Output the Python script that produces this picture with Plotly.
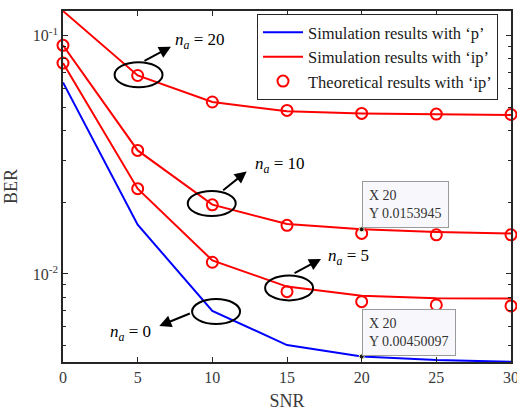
import numpy as np
import plotly.graph_objects as go

snr = [0, 5, 10, 15, 20, 25, 30]

ber_p = [0.0637, 0.0161, 0.0070, 0.00503, 0.00450097, 0.00435, 0.00428]

sim_ip_20 = [0.127, 0.0681, 0.0527, 0.0482, 0.0472, 0.0467, 0.0465]
sim_ip_10 = [0.0911, 0.0330, 0.01954, 0.0162, 0.0153945, 0.0150, 0.0148]
sim_ip_5 = [0.0768, 0.0228, 0.0114, 0.00885, 0.00811, 0.00790, 0.00788]

theo_ip_20 = [0.127, 0.0681, 0.0527, 0.0486, 0.0472, 0.0469, 0.0467]
theo_ip_10 = [0.0911, 0.0330, 0.0195, 0.0160, 0.0148, 0.0146, 0.0146]
theo_ip_5 = [0.0768, 0.0228, 0.0112, 0.00843, 0.00765, 0.00741, 0.00734]

legend_names = ["Simulation results with \u2018p\u2019",
                "Simulation results with \u2018ip\u2019",
                "Theoretical results with \u2018ip\u2019"]

# labels: (text, ellipse centre x, ellipse centre y, arrow head x, arrow head y, ax, ay, text x, text y)
labels = [
    ("20", 5.06, 0.0686, 7.23, 10 ** -1.046, -28, 15, 7.37, 10 ** -1.021),
    ("10", 9.96, 0.01977, 12.30, 10 ** -1.5695, -25, 20, 12.70, 10 ** -1.541),
    ("5", 15.14, 0.00874, 17.28, 10 ** -1.937, -28, 15, 17.62, 10 ** -1.927),
    ("0", 10.25, 0.00695, 6.45, 10 ** -2.218, 32, -13, 3.01, 10 ** -2.246),
]

datatips = [(20, 0.0153945, "X 20<br>Y 0.0153945"),
            (20, 0.00450097, "X 20<br>Y 0.00450097")]

FONT = "'Liberation Serif', 'Times New Roman', Times, 'DejaVu Serif', serif"
RED = "#ff0000"
BLUE = "#0000ff"

fig = go.Figure()

fig.add_trace(go.Scatter(x=snr, y=ber_p, mode="lines", name=legend_names[0],
                         line=dict(color=BLUE, width=2), cliponaxis=False))
for i, s in enumerate([sim_ip_20, sim_ip_10, sim_ip_5]):
    fig.add_trace(go.Scatter(x=snr, y=s, mode="lines", name=legend_names[1],
                             line=dict(color=RED, width=2), showlegend=(i == 0),
                             cliponaxis=False))
for i, s in enumerate([theo_ip_20, theo_ip_10, theo_ip_5]):
    fig.add_trace(go.Scatter(x=snr, y=s, mode="markers", name=legend_names[2],
                             marker=dict(symbol="circle-open", size=11, color=RED,
                                         line=dict(width=2, color=RED)),
                             showlegend=(i == 0), cliponaxis=False))

# datatip dots
fig.add_trace(go.Scatter(x=[d[0] for d in datatips], y=[d[1] for d in datatips],
                         mode="markers", showlegend=False, cliponaxis=False,
                         marker=dict(size=5, color="#1a1a1a",
                                     line=dict(width=1, color="#f0f0c8"))))

DEC = 238.3  # pixels per decade (for ellipse height only)
annotations = []
shapes = []
for txt, ex, ey, hx, hy, ax, ay, tx, ty in labels:
    shapes.append(dict(type="circle", xref="x", yref="y",
                       xsizemode="pixel", xanchor=ex, x0=-24, x1=24,
                       y0=ey * 10 ** (-12.5 / DEC), y1=ey * 10 ** (12.5 / DEC),
                       line=dict(color="black", width=2)))
    annotations.append(dict(x=hx, y=np.log10(hy), xref="x", yref="y", ax=ax, ay=ay,
                            text="", showarrow=True, arrowhead=2, arrowsize=1.2,
                            arrowwidth=2, arrowcolor="black", standoff=0))
    annotations.append(dict(x=tx, y=np.log10(ty), xref="x", yref="y",
                            text="<i>n</i><sub><i>a</i></sub> = " + txt,
                            showarrow=False, xanchor="left", yanchor="middle",
                            font=dict(family=FONT, size=17, color="black")))

for dx, dy, txt in datatips:
    annotations.append(dict(x=dx, y=np.log10(dy), xref="x", yref="y", text=txt,
                            showarrow=False, xanchor="left", yanchor="bottom",
                            yshift=1, align="left",
                            bgcolor="#f8f8fc", bordercolor="#9a9a9a", borderwidth=1,
                            borderpad=6,
                            font=dict(family=FONT, size=14, color="#333333")))

axis_common = dict(showline=True, linecolor="#262626", linewidth=1.5, mirror="ticks",
                   ticks="inside", ticklen=5, tickwidth=1.2, tickcolor="#262626",
                   showgrid=False, zeroline=False, automargin=False,
                   ticklabeloverflow="allow",
                   tickfont=dict(family=FONT, size=16, color="#3a3a3a"))

fig.update_layout(
    width=517, height=411,
    margin=dict(l=63, r=6, t=11, b=49),
    plot_bgcolor="white", paper_bgcolor="white",
    font=dict(family=FONT),
    xaxis=dict(range=[0, 30], tickvals=snr, ticktext=[str(v) for v in snr],
               title=dict(text="SNR", font=dict(family=FONT, size=18, color="#3a3a3a"),
                          standoff=9),
               **axis_common),
    yaxis=dict(type="log", range=[np.log10(0.00427), np.log10(0.127)],
               tickvals=[0.01, 0.1], ticktext=["10<sup>-2</sup>", "10<sup>-1</sup>"],
               minor=dict(ticks="inside", ticklen=3, tickwidth=1.2, tickcolor="#262626",
                          tickvals=[0.005, 0.006, 0.007, 0.008, 0.009,
                                    0.02, 0.03, 0.04, 0.05, 0.06, 0.07, 0.08, 0.09]),
               title=dict(text="BER", font=dict(family=FONT, size=18, color="#3a3a3a"),
                          standoff=10),
               **axis_common),
    legend=dict(x=0.971, y=0.9915, xanchor="right", yanchor="top",
                bgcolor="white", bordercolor="#262626", borderwidth=1,
                font=dict(family=FONT, size=16.5, color="#1a1a1a"),
                itemwidth=40),
    shapes=shapes, annotations=annotations,
)

fig.write_html("out.html", config={"displayModeBar": False},
               post_script="document.body.style.margin='0';document.body.style.padding='0';")
